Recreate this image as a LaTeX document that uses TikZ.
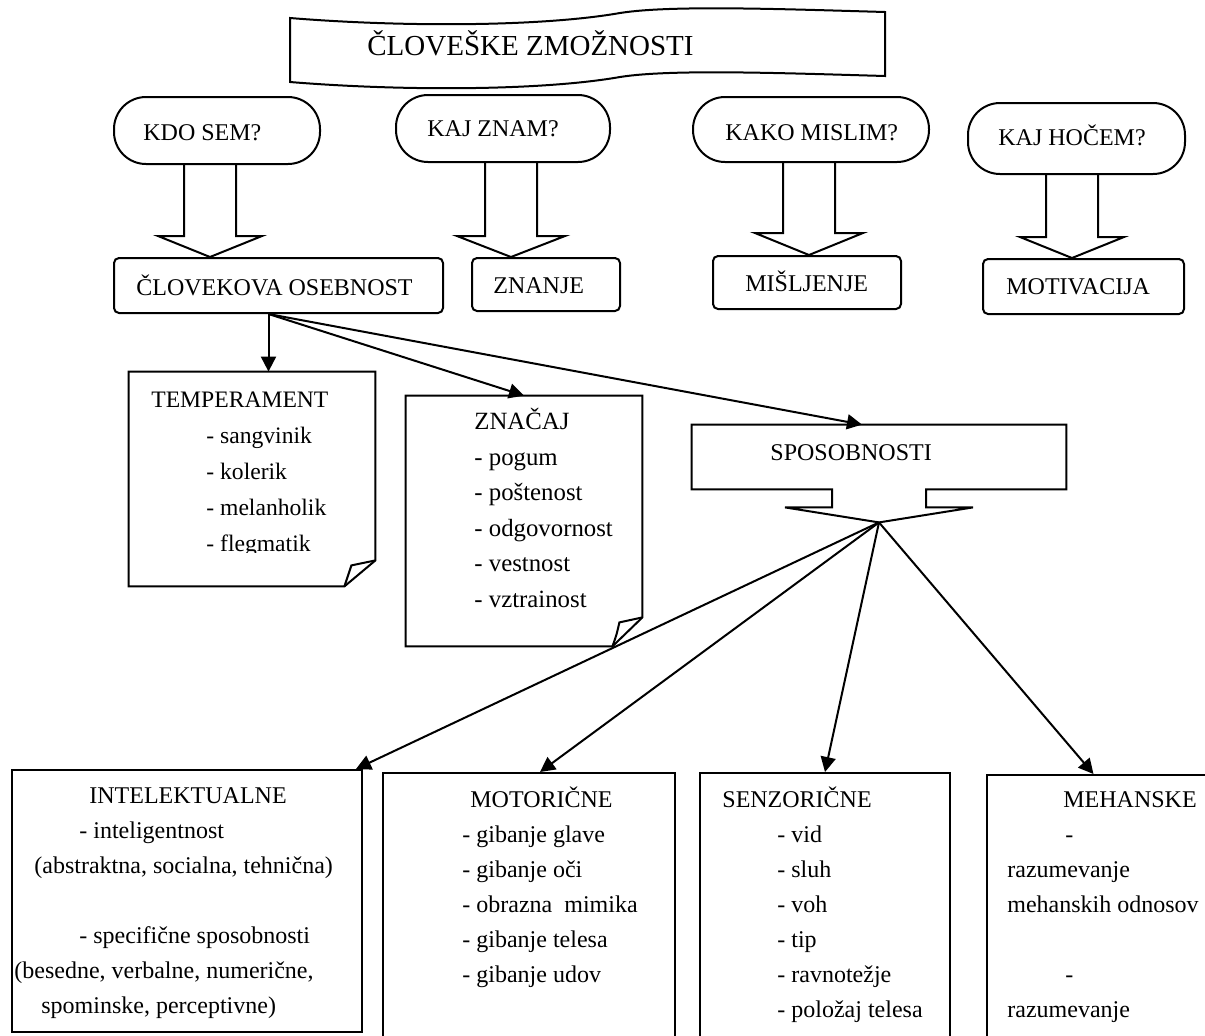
\documentclass[tikz,border=0pt]{standalone}
\usepackage{fontspec}
\setmainfont{Liberation Serif}
\usepackage{tikz}
\usetikzlibrary{arrows.meta, positioning, calc}

\begin{document}
\begin{tikzpicture}[
    x=0.5pt, y=-0.5pt,
    pill/.style={rectangle, draw, line width=1pt, rounded corners=16pt, inner sep=0pt},
    box/.style={rectangle, draw, line width=1pt, rounded corners=2.5pt, inner sep=0pt},
    panel/.style={rectangle, draw, line width=1pt, inner sep=0pt},
    holder/.style={rectangle, inner sep=0pt},
    outline/.style={line width=1pt, line join=miter},
    boxtext/.style={anchor=base west, inner sep=0pt, font=\fontsize{12}{14}\selectfont},
    itemlist/.style={anchor=base west, inner sep=0pt, align=left, font=\fontsize{12}{17.5}\selectfont},
    notelist/.style={itemlist, font=\fontsize{11.8}{18}\selectfont},
    arrow/.style={-{Triangle[length=7.5pt, width=7.5pt]}, line width=1pt},
]
\path[use as bounding box, fill=white] (0,0) rectangle (1205,1035);
\clip (0,0) rectangle (1205,1035);

% Title banner - wavy flag drawn directly
\draw[outline] (290,18) .. controls (400,27) and (540,27) .. (620,13) .. controls (670,5) and (780,9) .. (885,12) -- (885,76) .. controls (780,73) and (670,69) .. (620,77) .. controls (540,91) and (400,91) .. (290,82) -- cycle;
\node[boxtext, font=\fontsize{14.5}{17}\selectfont] (title) at (367,55) {ČLOVEŠKE ZMOŽNOSTI};

% Questions - label placed inside pill
\node[pill, minimum width=103pt, minimum height=33.5pt] (kdo) at (217,130.5) {};
\node[boxtext] (kdotext) at (143,140) {KDO SEM?};
\node[pill, minimum width=107pt, minimum height=33.5pt] (znam) at (503,128.5) {};
\node[boxtext] (znamtext) at (427,136) {KAJ ZNAM?};
\node[pill, minimum width=118pt, minimum height=32.5pt] (kako) at (811,129.5) {};
\node[boxtext] (kakotext) at (725,140) {KAKO MISLIM?};
\node[pill, minimum width=108.5pt, minimum height=35.5pt] (hocem) at (1076.5,138.5) {};
\node[boxtext] (hocemtext) at (998,145) {KAJ HOČEM?};

% Answers
\node[box, minimum width=164.5pt, minimum height=27.5pt] (osebnost) at (278.5,285.5) {};
\node[boxtext] (osebnosttext) at (136,295) {ČLOVEKOVA OSEBNOST};
\node[box, minimum width=74pt, minimum height=26.5pt] (znanje) at (546,284.5) {};
\node[boxtext] (znanjetext) at (493,293) {ZNANJE};
\node[box, minimum width=94pt, minimum height=26.5pt] (misljenje) at (807,282.5) {};
\node[boxtext] (misljenjetext) at (745,291) {MIŠLJENJE};
\node[box, minimum width=100.5pt, minimum height=27.5pt] (motivacija) at (1083.5,286.5) {};
\node[boxtext] (motivacijatext) at (1006,294) {MOTIVACIJA};

% Hollow block arrows - question to answer
\coordinate (kdoa) at ([xshift=-3.5pt]kdo.south);
\coordinate (kdob) at (kdoa |- osebnost.north);
\draw[outline] ([xshift=-13pt]kdoa) -- ([xshift=-13pt, yshift=10.5pt]kdob) -- ([xshift=-26pt, yshift=10.5pt]kdob) -- (kdob) -- ([xshift=26pt, yshift=10.5pt]kdob) -- ([xshift=13pt, yshift=10.5pt]kdob) -- ([xshift=13pt]kdoa);

\coordinate (znama) at ([xshift=4pt]znam.south);
\coordinate (znamb) at (znama |- znanje.north);
\draw[outline] ([xshift=-13pt]znama) -- ([xshift=-13pt, yshift=10.5pt]znamb) -- ([xshift=-27pt, yshift=10.5pt]znamb) -- (znamb) -- ([xshift=27pt, yshift=10.5pt]znamb) -- ([xshift=13pt, yshift=10.5pt]znamb) -- ([xshift=13pt]znama);

\coordinate (kakoa) at ([xshift=-1pt]kako.south);
\coordinate (kakob) at (kakoa |- misljenje.north);
\draw[outline] ([xshift=-13pt]kakoa) -- ([xshift=-13pt, yshift=11pt]kakob) -- ([xshift=-27pt, yshift=11pt]kakob) -- (kakob) -- ([xshift=27pt, yshift=11pt]kakob) -- ([xshift=13pt, yshift=11pt]kakob) -- ([xshift=13pt]kakoa);

\coordinate (hocema) at ([xshift=-2.25pt]hocem.south);
\coordinate (hocemb) at (hocema |- motivacija.north);
\draw[outline] ([xshift=-13pt]hocema) -- ([xshift=-13pt, yshift=10.5pt]hocemb) -- ([xshift=-26pt, yshift=10.5pt]hocemb) -- (hocemb) -- ([xshift=26pt, yshift=10.5pt]hocemb) -- ([xshift=13pt, yshift=10.5pt]hocemb) -- ([xshift=13pt]hocema);

% Notes with folded corner - list text sits on its last baseline
\node[holder, minimum width=123pt, minimum height=107pt] (temperament) at (252,479) {};
\draw[outline] (temperament.south west) |- (temperament.north east) -- ([yshift=13pt]temperament.south east) -- ([xshift=-15.5pt]temperament.south east) -- cycle;
\draw[outline] ([xshift=-15.5pt]temperament.south east) .. controls ([xshift=-13.5pt, yshift=5pt]temperament.south east) .. ([xshift=-12pt, yshift=10.5pt]temperament.south east) -- ([yshift=13pt]temperament.south east);
\begin{scope}
\clip (129,372) rectangle (375,552);
\node[notelist] (temperamenttext) at (151,551) {TEMPERAMENT\\\hspace*{27.5pt}- sangvinik\\\hspace*{27.5pt}- kolerik\\\hspace*{27.5pt}- melanholik\\\hspace*{27.5pt}- flegmatik};
\end{scope}

\node[holder, minimum width=118pt, minimum height=125pt] (znacaj) at (524,521) {};
\draw[outline] (znacaj.south west) |- (znacaj.north east) -- ([yshift=14.5pt]znacaj.south east) -- ([xshift=-15pt]znacaj.south east) -- cycle;
\draw[outline] ([xshift=-15pt]znacaj.south east) .. controls ([xshift=-13pt, yshift=5.5pt]znacaj.south east) .. ([xshift=-11.5pt, yshift=12pt]znacaj.south east) -- ([yshift=14.5pt]znacaj.south east);
\node[notelist, font=\fontsize{12.4}{17.75}\selectfont] (znacajtext) at (474,607) {ZNAČAJ\\- pogum\\- poštenost\\- odgovornost\\- vestnost\\- vztrainost};

% Sposobnosti - callout pointing down
\node[holder, minimum width=187pt, minimum height=32pt] (sposob) at (879,457) {};
\node[boxtext] (sposobtext) at (770,460) {SPOSOBNOSTI};
\coordinate (spotip) at ([yshift=-16.5pt]sposob.south);
\draw[outline] (sposob.south west) |- (sposob.north east) |- ([xshift=23.5pt]sposob.south) -- ++(0,18) -- ++(47,0) -- (spotip) -- ++(-94,-15) -- ++(47,0) -- ++(0,-18) -- cycle;

\coordinate (osebnostout) at ([xshift=-5pt]osebnost.south);
\draw[arrow] (osebnostout) -- (osebnostout |- temperament.north);
\draw[arrow] (osebnostout) -- (znacaj.north);
\draw[arrow] (osebnostout) -- ([xshift=-8.5pt]sposob.north);

% Kinds of abilities
\node[panel, minimum width=175pt, minimum height=131pt] (intel) at (187,901) {};
\node[panel, minimum width=146pt, minimum height=136pt] (motor) at (529,909) {};
\node[panel, minimum width=125pt, minimum height=136pt] (senz) at (825,909) {};
\node[panel, minimum width=116.5pt, minimum height=135pt] (meh) at (1103.5,910) {};

\draw[arrow] (spotip) -- ([xshift=-3.5pt]intel.north east);
\draw[arrow] (spotip) -- ([xshift=5.5pt]motor.north);
\draw[arrow] (spotip) -- (senz.north);
\draw[arrow] (spotip) -- ([xshift=-5pt]meh.north);

\node[itemlist] (inteltext) at (14,1013) {\hspace*{37.5pt}INTELEKTUALNE\\\hspace*{32.5pt}- inteligentnost\\\hspace*{10pt}(abstraktna, socialna, tehnična)\\[17.5pt]\hspace*{32.5pt}- specifične sposobnosti\\(besedne, verbalne, numerične,\\\hspace*{13.5pt}spominske, perceptivne)};
\node[itemlist] (motortext) at (462,982) {\hspace*{4pt}MOTORIČNE\\- gibanje glave\\- gibanje oči\\- obrazna \ mimika\\- gibanje telesa\\- gibanje udov};
\node[itemlist] (senztext) at (722,1017) {SENZORIČNE\\\hspace*{27.5pt}- vid\\\hspace*{27.5pt}- sluh\\\hspace*{27.5pt}- voh\\\hspace*{27.5pt}- tip\\\hspace*{27.5pt}- ravnotežje\\\hspace*{27.5pt}- položaj telesa};
\node[itemlist] (mehtext) at (1007,1017) {\hspace*{28pt}MEHANSKE\\\hspace*{29pt}-\\razumevanje\\mehanskih odnosov\\[17.5pt]\hspace*{29pt}-\\razumevanje};

\end{tikzpicture}
\end{document}
